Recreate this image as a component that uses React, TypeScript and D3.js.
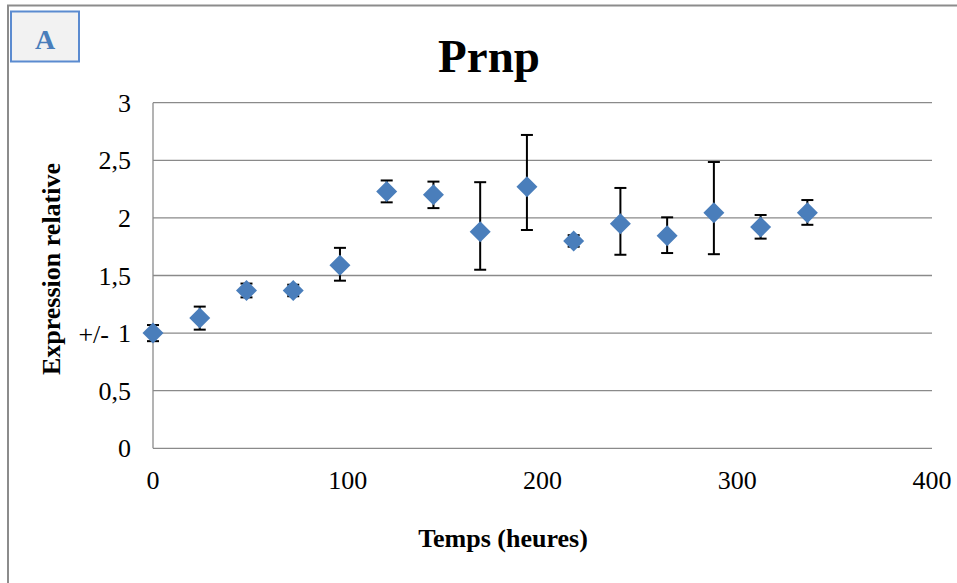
import React from "react";
import * as d3 from "d3";

const hours = [0, 24, 48, 72, 96, 120, 144, 168, 192, 216, 240, 264, 288, 312, 336];
const expression = [1.0, 1.13, 1.37, 1.37, 1.59, 2.23, 2.2, 1.88, 2.27, 1.8, 1.95, 1.845, 2.045, 1.92, 2.045];
const errPlus = [0.07, 0.1, 0.06, 0.05, 0.15, 0.095, 0.115, 0.43, 0.45, 0.05, 0.31, 0.16, 0.44, 0.105, 0.11];
const errMinus = [0.07, 0.1, 0.06, 0.05, 0.135, 0.095, 0.115, 0.33, 0.375, 0.05, 0.27, 0.15, 0.36, 0.1, 0.105];
const yTicks = [0, 0.5, 1, 1.5, 2, 2.5, 3];
const xTicks = [0, 100, 200, 300, 400];

const W = 957;
const H = 583;
const FONT = "'Liberation Serif', 'Times New Roman', serif";
const BLUE = "#4a7ebb";
const GRID = "#8a8a8a";

export default function App() {
  const x = d3.scaleLinear().domain([0, 400]).range([153, 932]);
  const y = d3.scaleLinear().domain([0, 3]).range([448.3, 102.7]);
  const fmt = (v: number) => String(v).replace(".", ",");
  const diamond = d3.symbol().type(d3.symbolDiamond2).size(0);
  const r = 10.5;
  const diamondPath = `M0,${-r}L${r},0L0,${r}L${-r},0Z`;
  void diamond;

  return (
    <svg
      width={W}
      height={H}
      style={{ position: "absolute", left: 0, top: 0, background: "#fff" }}
      fontFamily={FONT}
    >
      <rect x={8} y={5.5} width={W + 20} height={H + 20} fill="#fff" stroke="#8c8c8c" strokeWidth={2} />
      <rect x={11} y={11.5} width={68} height={50} fill="#f2f2f2" stroke="#5b8bd0" strokeWidth={2} />
      <text x={45} y={49} textAnchor="middle" fontSize={28} fontWeight="bold" fill={BLUE}>
        A
      </text>
      <text x={489} y={72} textAnchor="middle" fontSize={47} fontWeight="bold" fill="#000">
        Prnp
      </text>

      {yTicks.map((t) => (
        <line key={"g" + t} x1={x(0)} x2={x(400)} y1={y(t)} y2={y(t)} stroke={GRID} strokeWidth={1.3} />
      ))}
      <line x1={x(0)} x2={x(0)} y1={y(3)} y2={y(0)} stroke={GRID} strokeWidth={1.3} />

      {yTicks.map((t) => (
        <text key={"yl" + t} x={131} y={y(t) + 9} textAnchor="end" fontSize={26} fill="#000">
          {fmt(t)}
        </text>
      ))}
      <text x={109} y={y(1) + 10} textAnchor="end" fontSize={26} fill="#000">
        +/-
      </text>
      {xTicks.map((t) => (
        <text key={"xl" + t} x={x(t)} y={489} textAnchor="middle" fontSize={26} fill="#000">
          {t}
        </text>
      ))}

      <text
        transform={`translate(60,269) rotate(-90)`}
        textAnchor="middle"
        fontSize={26}
        fontWeight="bold"
        fill="#000"
      >
        Expression relative
      </text>
      <text x={503} y={547} textAnchor="middle" fontSize={26} fontWeight="bold" fill="#000">
        Temps (heures)
      </text>

      {hours.map((h, i) => {
        const cx = x(h);
        const top = y(expression[i] + errPlus[i]);
        const bot = y(expression[i] - errMinus[i]);
        return (
          <g key={"e" + h} stroke="#000" strokeWidth={2}>
            <line x1={cx} x2={cx} y1={top} y2={bot} />
            <line x1={cx - 6} x2={cx + 6} y1={top} y2={top} />
            <line x1={cx - 6} x2={cx + 6} y1={bot} y2={bot} />
          </g>
        );
      })}
      {hours.map((h, i) => (
        <path key={"m" + h} d={diamondPath} transform={`translate(${x(h)},${y(expression[i])})`} fill={BLUE} />
      ))}
    </svg>
  );
}
